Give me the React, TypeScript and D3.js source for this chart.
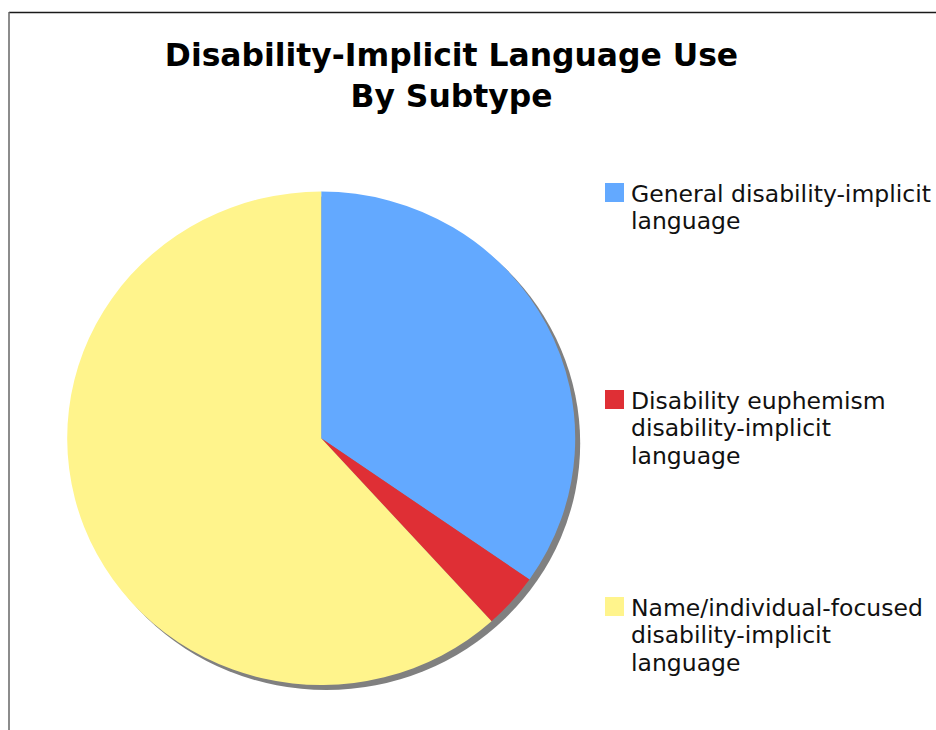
import React, { useEffect, useRef } from "react";
import * as d3 from "d3";

// chart data
const categories = [
  "General disability-implicit language",
  "Disability euphemism disability-implicit language",
  "Name/individual-focused disability-implicit language",
];
const values = [34.7, 3.6, 61.7];
const colors = ["#63a9ff", "#df2f35", "#fff48c"];
const legendLines = [
  ["General disability-implicit", "language"],
  ["Disability euphemism", "disability-implicit", "language"],
  ["Name/individual-focused", "disability-implicit", "language"],
];
const titleLines = ["Disability-Implicit Language Use", "By Subtype"];

export default function App() {
  const ref = useRef<SVGSVGElement | null>(null);

  useEffect(() => {
    drawChart();
  }, []);

  function drawChart() {
    const width = 936;
    const height = 730;
    const svg = d3.select(ref.current);
    svg.selectAll("*").remove();

    const font = "'DejaVu Sans', Verdana, sans-serif";

    // frame
    svg
      .append("line")
      .attr("x1", 9)
      .attr("x2", width)
      .attr("y1", 12.5)
      .attr("y2", 12.5)
      .attr("stroke", "#1a1a1a")
      .attr("stroke-width", 1.5);
    svg
      .append("line")
      .attr("x1", 9)
      .attr("x2", 9)
      .attr("y1", 12)
      .attr("y2", height)
      .attr("stroke", "#666")
      .attr("stroke-width", 1.5);

    // title
    svg
      .append("text")
      .attr("font-family", font)
      .attr("font-weight", "bold")
      .attr("font-size", 31.4)
      .attr("text-anchor", "middle")
      .selectAll("tspan")
      .data(titleLines)
      .join("tspan")
      .attr("x", 451.5)
      .attr("y", (d, i) => 65.5 + i * 41)
      .text((d) => d);

    // pie (slightly squashed vertically)
    const cx = 321.2;
    const cy = 438.3;
    const rx = 254;
    const ry = 246.7;

    const pie = d3.pie<number>().sort(null).value((d) => d);
    const arcs = pie(values);
    const arc = d3.arc<d3.PieArcDatum<number>>().innerRadius(0).outerRadius(rx);

    // shadow
    svg
      .append("ellipse")
      .attr("cx", cx + 5)
      .attr("cy", cy + 5)
      .attr("rx", rx)
      .attr("ry", ry)
      .attr("fill", "#808080");

    svg
      .append("g")
      .attr("transform", `translate(${cx},${cy}) scale(1,${ry / rx})`)
      .selectAll("path")
      .data(arcs)
      .join("path")
      .attr("d", arc)
      .attr("fill", (d, i) => colors[i])
      .append("title")
      .text((d, i) => `${categories[i]}: ${values[i]}%`);

    // legend
    const legendTops = [183, 390, 597];
    const lg = svg.append("g").attr("font-family", font).attr("font-size", 23.5);
    legendLines.forEach((lines, i) => {
      lg.append("rect")
        .attr("x", 605)
        .attr("y", legendTops[i])
        .attr("width", 19)
        .attr("height", 19)
        .attr("fill", colors[i]);
      lg.append("text")
        .attr("fill", "#111")
        .selectAll("tspan")
        .data(lines)
        .join("tspan")
        .attr("x", 631)
        .attr("y", (d, j) => legendTops[i] + 18.5 + j * 27.5)
        .text((d) => d);
    });
  }

  return (
    <svg
      ref={ref}
      width={936}
      height={730}
      style={{ position: "absolute", left: 0, top: 0, background: "#fff" }}
    />
  );
}
